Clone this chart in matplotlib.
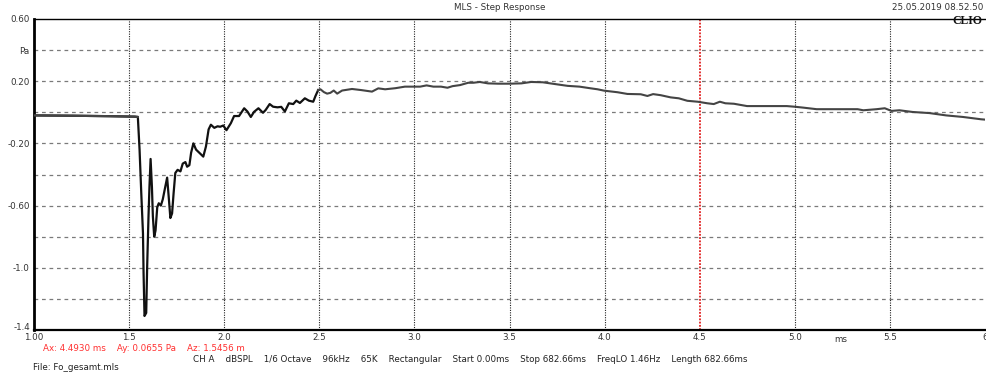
import matplotlib

matplotlib.use("Agg")
import matplotlib.pyplot as plt
from matplotlib.transforms import ScaledTranslation

# step response (time in ms, pressure in Pa)
t_ms = [
    1.00, 1.20, 1.40, 1.53, 1.546, 1.555, 1.564, 1.573, 1.576, 1.581,
    1.590, 1.595, 1.602, 1.607, 1.613, 1.620, 1.625, 1.632, 1.639, 1.648,
    1.656, 1.667, 1.677, 1.690, 1.700, 1.708, 1.717, 1.726, 1.734, 1.743,
    1.755, 1.770, 1.782, 1.796, 1.805, 1.817, 1.826, 1.838, 1.852, 1.869,
    1.890, 1.904, 1.918, 1.930, 1.948, 1.965, 1.979, 1.995, 2.012, 2.035,
    2.052, 2.078, 2.105, 2.122, 2.140, 2.157, 2.180, 2.204, 2.218, 2.239,
    2.257, 2.280, 2.300, 2.319, 2.340, 2.363, 2.379, 2.398, 2.424, 2.445,
    2.468, 2.480, 2.494, 2.506, 2.524, 2.541, 2.558, 2.576, 2.594, 2.620,
    2.672, 2.720, 2.777, 2.810, 2.846, 2.900, 2.950, 2.990, 3.030, 3.064,
    3.100, 3.140, 3.174, 3.200, 3.240, 3.283, 3.310, 3.344, 3.387, 3.440,
    3.500, 3.562, 3.614, 3.675, 3.737, 3.806, 3.868, 3.928, 3.963, 3.998,
    4.068, 4.120, 4.190, 4.225, 4.255, 4.295, 4.347, 4.390, 4.435, 4.490,
    4.540, 4.574, 4.606, 4.635, 4.680, 4.749, 4.836, 4.958, 4.998, 5.045,
    5.115, 5.203, 5.280, 5.330, 5.360, 5.430, 5.473, 5.508, 5.550, 5.620,
    5.708, 5.796, 5.884, 5.980, 6.000,
]
p_pa = [
    -0.020, -0.022, -0.025, -0.028, -0.030, -0.24, -0.52, -0.78, -1.03, -1.31,
    -1.29, -0.99, -0.67, -0.48, -0.30, -0.48, -0.67, -0.80, -0.76, -0.61,
    -0.585, -0.60, -0.56, -0.48, -0.42, -0.54, -0.68, -0.65, -0.52, -0.39,
    -0.37, -0.38, -0.33, -0.32, -0.35, -0.34, -0.26, -0.20, -0.24, -0.26,
    -0.285, -0.22, -0.11, -0.08, -0.10, -0.09, -0.093, -0.085, -0.115, -0.07,
    -0.024, -0.024, 0.026, 0.005, -0.030, 0.003, 0.026, -0.003, 0.015, 0.053,
    0.036, 0.032, 0.035, 0.005, 0.058, 0.053, 0.075, 0.060, 0.090, 0.075,
    0.068, 0.105, 0.143, 0.148, 0.130, 0.120, 0.125, 0.140, 0.120, 0.140,
    0.150, 0.143, 0.133, 0.154, 0.148, 0.155, 0.165, 0.165, 0.165, 0.173,
    0.165, 0.165, 0.158, 0.168, 0.175, 0.190, 0.190, 0.195, 0.186, 0.184,
    0.184, 0.186, 0.195, 0.193, 0.182, 0.170, 0.165, 0.154, 0.148, 0.139,
    0.129, 0.118, 0.116, 0.105, 0.117, 0.110, 0.096, 0.090, 0.074, 0.068,
    0.058, 0.053, 0.068, 0.058, 0.055, 0.040, 0.040, 0.040, 0.036, 0.030,
    0.020, 0.020, 0.020, 0.020, 0.013, 0.020, 0.026, 0.009, 0.013, 0.002,
    -0.005, -0.020, -0.030, -0.045, -0.047,
]

x_ticks = [1.0, 1.5, 2.0, 2.5, 3.0, 3.5, 4.0, 4.5, 5.0, 5.5, 6.0]
x_labels = ["1.00", "1.5", "2.0", "2.5", "3.0", "3.5", "4.0", "4.5", "5.0", "5.5", "6"]
y_ticks = [0.6, 0.4, 0.2, 0.0, -0.2, -0.4, -0.6, -0.8, -1.0, -1.2, -1.4]
y_labels = ["0.60", "Pa", "0.20", "", "-0.20", "", "-0.60", "", "-1.0", "", "-1.4"]
cursor_ms = 4.5

FS = 6.3
plt.rcParams["font.family"] = ["DejaVu Sans"]

fig = plt.figure(figsize=(9.86, 3.72), dpi=100)
ax = fig.add_axes([34 / 986, 1 - 330 / 372, 951 / 986, 311 / 372])

for y in y_ticks[1:-1]:
    ax.axhline(y, color="#7a7a7a", lw=0.9, ls=(0, (3, 3)), zorder=1)
for x in x_ticks[1:-1]:
    if x == cursor_ms:
        continue
    ax.axvline(x, color="#222222", lw=0.8, ls=(0, (1, 1.2)), zorder=1)
ax.axvline(cursor_ms, color="#e02020", lw=1.3, ls=(0, (1, 0.8)), zorder=2)

# transient drawn darker than the tail, as in the screenshot
split = t_ms.index(2.494)
ax.plot(t_ms[: split + 1], p_pa[: split + 1], color="#111111", lw=1.6, zorder=3)
ax.plot(t_ms[split:], p_pa[split:], color="#444444", lw=1.5, zorder=3)
ax.plot(t_ms[:5], p_pa[:5], color="#444444", lw=1.6, zorder=4)

ax.set_xlim(1.0, 6.0)
ax.set_ylim(-1.4, 0.6)
ax.set_xticks(x_ticks)
ax.set_xticklabels(x_labels, fontsize=FS, color="#333333")
ax.set_yticks(y_ticks)
ax.set_yticklabels(y_labels, fontsize=FS, color="#333333")
ax.tick_params(axis="x", length=0, pad=2.2)
ax.tick_params(axis="y", length=0, pad=3)
ax.spines["left"].set_linewidth(2.0)
ax.spines["bottom"].set_linewidth(1.6)
ax.spines["top"].set_linewidth(1.0)
ax.spines["right"].set_visible(False)

# lift the bottom y label a touch so it clears the "1.00" below it
low = ax.get_yticklabels()[-1]
low.set_transform(low.get_transform() + ScaledTranslation(0, 2.5 / 72, fig.dpi_scale_trans))

ax.annotate("ms", xy=(5.24, -1.4), xytext=(0, -7), textcoords="offset points",
            fontsize=FS, color="#333333", ha="center", va="center")

fig.text(500 / 986, 1 - 8 / 372, "MLS - Step Response", fontsize=FS, color="#333333",
         ha="center", va="center")
fig.text(892 / 986, 1 - 8 / 372, "25.05.2019 08.52.50", fontsize=FS, color="#333333",
         ha="left", va="center")
fig.text(952 / 986, 1 - 21 / 372, "CLIO", fontsize=8.5, fontweight="bold",
         family="Liberation Serif", color="#111111", ha="left", va="center")
fig.text(43 / 986, 1 - 348.5 / 372, "Ax: 4.4930 ms    Ay: 0.0655 Pa    Az: 1.5456 m",
         fontsize=FS, color="#ff3030", ha="left", va="center")
fig.text(193 / 986, 1 - 360 / 372,
         "CH A    dBSPL    1/6 Octave    96kHz    65K    Rectangular    Start 0.00ms"
         "    Stop 682.66ms    FreqLO 1.46Hz    Length 682.66ms",
         fontsize=FS, color="#222222", ha="left", va="center")
fig.text(33 / 986, 1 - 368 / 372, "File: Fo_gesamt.mls", fontsize=FS, color="#222222",
         ha="left", va="center")

fig.savefig("out.png", dpi=100)
